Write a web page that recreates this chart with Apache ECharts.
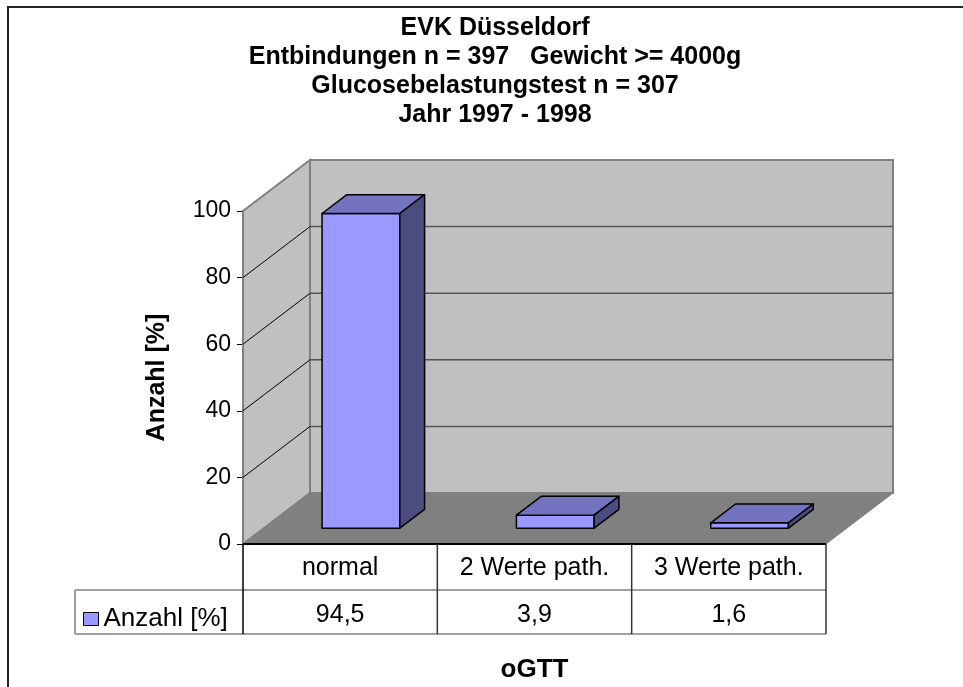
<!DOCTYPE html>
<html>
<head>
<meta charset="utf-8">
<title>EVK Düsseldorf - oGTT</title>
<script src="https://cdn.jsdelivr.net/npm/echarts@6/dist/echarts.min.js"></script>
<style>
  html, body { margin: 0; padding: 0; background: #fff; }
  #chart { width: 963px; height: 687px; }
</style>
</head>
<body>
<div id="chart"></div>
<script>
const categories = ['normal', '2 Werte path.', '3 Werte path.']
const anzahl = [94.5, 3.9, 1.6]
const yTicks = [0, 20, 40, 60, 80, 100]
const seriesName = 'Anzahl [%]'
const titleLines = [
  'EVK Düsseldorf',
  'Entbindungen n = 397   Gewicht >= 4000g',
  'Glucosebelastungstest n = 307',
  'Jahr 1997 - 1998'
]

const FONT = '"Liberation Sans", Arial, sans-serif'
const DEPTH = [67, -51] // Versatz Vorderkante -> Rueckwand
const BAR_FRONT = 0.31 // Tiefe der Saeulen-Vorderseite
const BAR_BACK = 0.68
const ROW_H = [46, 44] // Zeilen der Datentabelle
const LEGEND_LEFT = 75

function renderWalls(params, api) {
  const cs = params.coordSys
  const x0 = cs.x
  const x1 = cs.x + cs.width
  const yTop = cs.y
  const yBot = cs.y + cs.height
  const [dx, dy] = DEPTH
  const children = []
  const poly = (points, style) => children.push({ type: 'polygon', shape: { points }, style })
  const line = (a, b, stroke, lineWidth) => children.push({
    type: 'line', shape: { x1: a[0], y1: a[1], x2: b[0], y2: b[1] }, style: { stroke, lineWidth }
  })

  // Rueckwand
  poly([[x0 + dx, yTop + dy], [x1 + dx, yTop + dy], [x1 + dx, yBot + dy], [x0 + dx, yBot + dy]],
    { fill: '#c0c0c0', stroke: '#808080', lineWidth: 2 })
  // Seitenwand
  poly([[x0, yTop], [x0 + dx, yTop + dy], [x0 + dx, yBot + dy], [x0, yBot]],
    { fill: '#c0c0c0', stroke: '#808080', lineWidth: 2 })
  // Boden
  poly([[x0, yBot], [x0 + dx, yBot + dy], [x1 + dx, yBot + dy], [x1, yBot]],
    { fill: '#808080', stroke: '#808080', lineWidth: 1 })

  // Gitterlinien
  yTicks.forEach((v, i) => {
    if (i === 0 || i === yTicks.length - 1) return
    const y = api.coord([0, v])[1]
    line([x0 + dx, y + dy], [x1 + dx, y + dy], '#555555', 1.5)
    line([x0, y], [x0 + dx, y + dy], '#000000', 1)
  })

  // Datentabelle
  const r1 = yBot + ROW_H[0]
  const r2 = r1 + ROW_H[1]
  const bw = cs.width / categories.length
  line([x0, yBot], [x1, yBot], '#000000', 2)
  line([LEGEND_LEFT, r1], [x1, r1], '#808080', 1.5)
  line([LEGEND_LEFT, r2], [x1, r2], '#808080', 1.5)
  line([LEGEND_LEFT, r1], [LEGEND_LEFT, r2], '#808080', 1.5)
  line([x0, yBot], [x0, r2], '#000000', 1.5)
  for (let i = 1; i < categories.length; i++) {
    line([x0 + bw * i, yBot], [x0 + bw * i, r2], '#333333', 1.5)
  }
  line([x1, yBot], [x1, r2], '#333333', 1.5)

  return { type: 'group', children }
}

function renderBar(params, api) {
  const idx = api.value(0)
  const top = api.coord([idx, api.value(1)])
  const base = api.coord([idx, 0])
  const hw = api.size([1, 0])[0] * 0.2
  const [dx, dy] = DEPTH
  const fx = dx * BAR_FRONT, fy = dy * BAR_FRONT
  const bx = dx * BAR_BACK, by = dy * BAR_BACK
  const L = top[0] - hw
  const R = top[0] + hw
  const edge = { stroke: '#000', lineWidth: 1.5, lineJoin: 'round' }
  return {
    type: 'group',
    children: [
      { type: 'polygon', shape: { points: [[L + fx, top[1] + fy], [R + fx, top[1] + fy], [R + fx, base[1] + fy], [L + fx, base[1] + fy]] },
        style: Object.assign({ fill: '#9999ff' }, edge) },
      { type: 'polygon', shape: { points: [[L + fx, top[1] + fy], [L + bx, top[1] + by], [R + bx, top[1] + by], [R + fx, top[1] + fy]] },
        style: Object.assign({ fill: '#7373bf' }, edge) },
      { type: 'polygon', shape: { points: [[R + fx, top[1] + fy], [R + bx, top[1] + by], [R + bx, base[1] + by], [R + fx, base[1] + fy]] },
        style: Object.assign({ fill: '#4c4c80' }, edge) }
    ]
  }
}

const chart = echarts.init(document.getElementById('chart'))
chart.setOption({
  animation: false,
  backgroundColor: '#ffffff',
  textStyle: { fontFamily: FONT },
  title: {
    text: titleLines.join('\n'),
    left: 490,
    top: 9,
    textAlign: 'center',
    textStyle: { fontFamily: FONT, fontSize: 25, fontWeight: 'bold', lineHeight: 29, color: '#000' }
  },
  legend: {
    data: [seriesName],
    left: 78,
    top: 601,
    icon: 'rect',
    itemWidth: 15,
    itemHeight: 13,
    itemGap: 0,
    itemStyle: { borderColor: '#000', borderWidth: 1 },
    textStyle: { fontFamily: FONT, fontSize: 26, color: '#000' },
    selectedMode: false
  },
  grid: { left: 243, right: 137, top: 211, bottom: 143 },
  xAxis: [
    {
      type: 'category',
      data: categories,
      axisLine: { show: false },
      axisTick: { show: false },
      axisLabel: { fontFamily: FONT, fontSize: 25, color: '#000', margin: 24, verticalAlign: 'middle', interval: 0, hideOverlap: false },
      name: 'oGTT',
      nameLocation: 'middle',
      nameGap: 113,
      nameTextStyle: { fontFamily: FONT, fontSize: 26, fontWeight: 'bold', color: '#000' }
    },
    {
      type: 'category',
      position: 'bottom',
      offset: ROW_H[0],
      data: anzahl.map(v => String(v).replace('.', ',')),
      axisLine: { show: false },
      axisTick: { show: false },
      axisLabel: { fontFamily: FONT, fontSize: 25, color: '#000', margin: 25, verticalAlign: 'middle', interval: 0 }
    }
  ],
  yAxis: {
    type: 'value',
    min: 0,
    max: 100,
    interval: 20,
    axisLine: { show: true, lineStyle: { color: '#000', width: 1.5 } },
    axisTick: { show: true, length: 6, lineStyle: { color: '#000' } },
    axisLabel: { fontFamily: FONT, fontSize: 23, color: '#000', margin: 12 },
    splitLine: { show: false },
    name: seriesName,
    nameLocation: 'middle',
    nameRotate: 90,
    nameGap: 73,
    nameTextStyle: { fontFamily: FONT, fontSize: 25, fontWeight: 'bold', color: '#000' }
  },
  graphic: [
    {
      type: 'rect',
      shape: { x: 8, y: 7, width: 1200, height: 1000 },
      style: { fill: 'none', stroke: '#222', lineWidth: 2 },
      silent: true
    }
  ],
  series: [
    {
      type: 'custom',
      name: 'waende',
      renderItem: renderWalls,
      data: [[0, 0]],
      z: 1,
      silent: true
    },
    {
      type: 'custom',
      name: seriesName,
      renderItem: renderBar,
      data: anzahl.map((v, i) => [i, v]),
      encode: { x: 0, y: 1 },
      itemStyle: { color: '#9999ff' },
      z: 2
    }
  ]
})
</script>
</body>
</html>
